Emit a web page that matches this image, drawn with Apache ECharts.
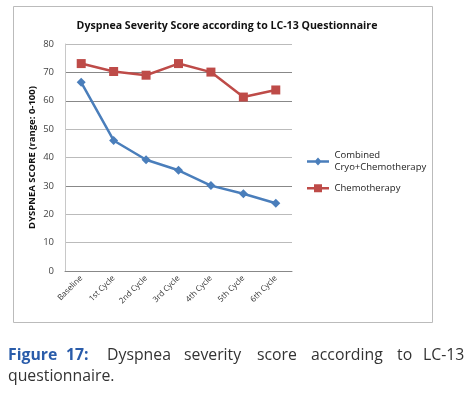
<!DOCTYPE html>
<html><head><meta charset="utf-8">
<script src="https://cdn.jsdelivr.net/npm/echarts@6/dist/echarts.min.js"></script>
<style>html,body{margin:0;padding:0;background:#fff}#c{width:474px;height:394px}</style>
</head><body><div id="c"></div>
<script>
var categories = ['Baseline','1st Cycle','2nd Cycle','3rd Cycle','4th Cycle','5th Cycle','6th Cycle'];
var combined = [66.5, 46.0, 39.2, 35.5, 30.1, 27.2, 23.9];
var chemo = [73.1, 70.3, 69.0, 73.1, 70.1, 61.3, 63.8];
var yTicks = [0, 10, 20, 30, 40, 50, 60, 70, 80];
var seriesNames = ['Combined\nCryo+Chemotherapy', 'Chemotherapy'];
var title = 'Dyspnea Severity Score according to LC-13 Questionnaire';
var yName = 'DYSPNEA SCORE (range: 0-100)';
var captionWords = ['Dyspnea','severity','score','according','to','LC-13'];

var F = 'Open Sans, Noto Sans, sans-serif';
var chart = echarts.init(document.getElementById('c'), null, {renderer:'canvas'});
var wordX = [107, 184, 257, 311, 397, 423];
var CF = '15.8px ' + F;
var graphics = [
  {type:'rect', shape:{x:13.5,y:6.5,width:419,height:316}, style:{fill:null, stroke:'#bbbbbb', lineWidth:1}},
  {type:'text', left:8, top:347, style:{text:'Figure', font:'bold '+CF, fill:'#2a5caa'}},
  {type:'text', left:66, top:347, style:{text:'17:', font:'bold '+CF, fill:'#2a5caa'}},
  {type:'text', left:8, top:368, style:{text:'questionnaire.', font:CF, fill:'#333'}}
];
captionWords.forEach(function(w,i){
  graphics.push({type:'text', left:wordX[i], top:347, style:{text:w, font:CF, fill:'#333'}});
});
chart.setOption({
  animation:false,
  title:{text:title, left:222, textAlign:'center', top:15, textStyle:{fontFamily:F, fontSize:10.6, fontWeight:'bold', color:'#111'}},
  grid:{left:65, right:182, top:44, bottom:123, containLabel:false},
  legend:{orient:'vertical', left:302, top:144, itemWidth:23, itemHeight:8, itemGap:8,
    textStyle:{fontFamily:F, fontSize:9.5, color:'#222', lineHeight:12.5},
    data:[{name:seriesNames[0], icon:'path://M0,2.8 L8.5,2.8 L11,0 L13.5,2.8 L22,2.8 L22,5.2 L13.5,5.2 L11,8 L8.5,5.2 L0,5.2 Z'},
          {name:seriesNames[1], icon:'path://M0,2.8 L7,2.8 L7,0 L15,0 L15,2.8 L22,2.8 L22,5.2 L15,5.2 L15,8 L7,8 L7,5.2 L0,5.2 Z'}]},
  xAxis:{type:'category', data:categories, boundaryGap:true,
    axisLine:{lineStyle:{color:'#888'}}, axisTick:{show:false},
    axisLabel:{rotate:45, fontFamily:F, fontSize:8, color:'#333', margin:6, interval:0}},
  yAxis:{type:'value', min:0, max:80, interval:10,
    name:yName, nameLocation:'middle', nameGap:28, nameRotate:90,
    nameTextStyle:{fontFamily:F, fontSize:9.5, fontWeight:'bold', color:'#111'},
    axisLine:{show:true, lineStyle:{color:'#c8c8c8'}}, axisTick:{show:false},
    axisLabel:{fontFamily:F, fontSize:9.5, color:'#444', margin:11},
    splitLine:{lineStyle:{color:['#888','#bbb','#bbb','#888','#bbb','#bbb','#888','#888','#bbb'], width:1}}},
  series:[
    {name:seriesNames[0], type:'line', data:combined, symbol:'diamond', symbolSize:9,
      lineStyle:{color:'#4a7ebb', width:2.5}, itemStyle:{color:'#4a7ebb'}},
    {name:seriesNames[1], type:'line', data:chemo, symbol:'rect', symbolSize:9,
      lineStyle:{color:'#be4b48', width:2.5}, itemStyle:{color:'#be4b48'}}
  ],
  graphic:graphics
});
</script></body></html>
